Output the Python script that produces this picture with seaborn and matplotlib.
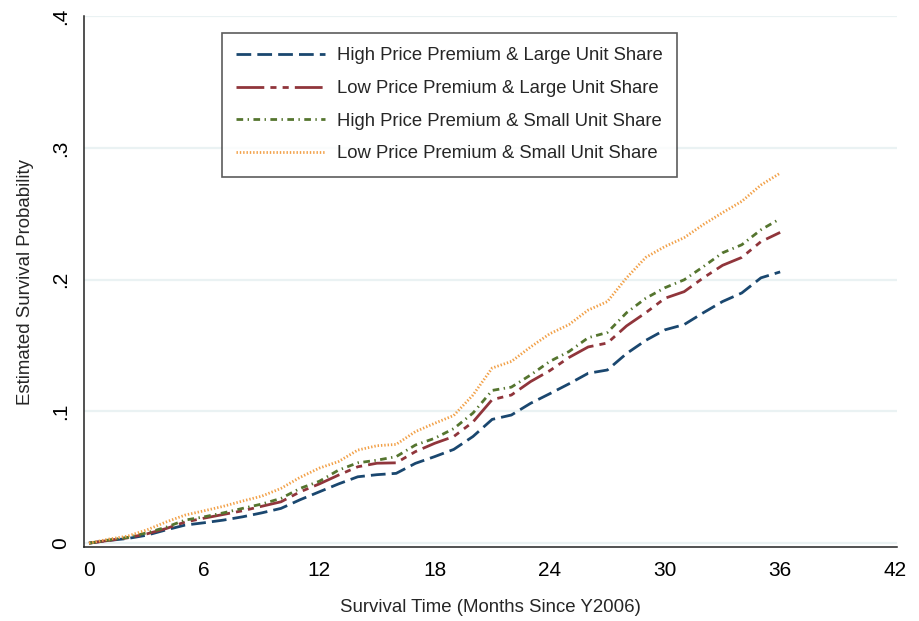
import numpy as np
import pandas as pd
import matplotlib
matplotlib.use("Agg")
import matplotlib.pyplot as plt
import seaborn as sns

months = list(range(37))

high_large = [0, .002, .0035, .006, .010, .0137, .0155, .0175, .020, .023, .0264,
              .033, .039, .045, .0504, .052, .053, .0606, .0657, .0712, .081,
              .094, .0973, .1062, .1135, .121, .129, .1315, .144, .154, .162,
              .166, .175, .1835, .190, .2015, .206]
low_large = [0, .002, .004, .007, .011, .016, .019, .0218, .0246, .028, .0314,
             .039, .045, .0517, .058, .0607, .061, .0695, .0758, .081, .092,
             .109, .1125, .1227, .131, .141, .149, .152, .165, .175, .186,
             .191, .2015, .211, .217, .229, .236]
high_small = [0, .0023, .0043, .0078, .012, .0175, .020, .023, .0264, .0297, .034,
              .0416, .047, .0555, .061, .063, .0657, .0745, .0796, .087, .0988,
              .116, .1185, .1277, .138, .1455, .156, .160, .175, .186, .194,
              .200, .210, .2205, .2266, .238, .2464]
low_small = [0, .003, .0053, .010, .016, .0213, .0246, .028, .032, .0357, .0416,
             .050, .057, .062, .0707, .074, .075, .0847, .091, .097, .1125,
             .133, .138, .149, .159, .166, .177, .1835, .2015, .217, .2253,
             .232, .242, .251, .2596, .272, .281]

groups = ["High Price Premium & Large Unit Share",
          "Low Price Premium & Large Unit Share",
          "High Price Premium & Small Unit Share",
          "Low Price Premium & Small Unit Share"]
series = [high_large, low_large, high_small, low_small]

xticks = [0, 6, 12, 18, 24, 30, 36, 42]
yticks = [0, .1, .2, .3, .4]
ytick_labels = ["0", ".1", ".2", ".3", ".4"]

df = pd.DataFrame({
    "month": months * len(groups),
    "surv": [v for s in series for v in s],
    "group": [g for g in groups for _ in months],
})

sns.set_style("white")
plt.rcParams["font.family"] = ["Liberation Sans", "DejaVu Sans"]

colors = ["#1a476f", "#90353b", "#55752f", "#f2a047"]
# dash patterns in units of line width
dashes = [(5.3, 2.2), (10, 2.2, 2.2, 2.2, 2.2, 2.2), (2.4, 1.6, 0.5, 1.6), (0.5, 0.7)]

fig = plt.figure(figsize=(9.2, 6.21), dpi=100)
ax = fig.add_axes([0.0913, 0.119, 0.884, 0.8545])

sns.lineplot(data=df, x="month", y="surv", hue="group", style="group",
             hue_order=groups, style_order=groups,
             palette=colors, dashes=dashes, linewidth=2.0, ax=ax)

ax.set_xlim(-0.26, 42.1)
ax.set_ylim(-0.003, 0.4)
ax.set_xticks(xticks)
ax.set_yticks(yticks)
ax.set_yticklabels(ytick_labels, rotation=90, va="center")
ax.tick_params(axis="both", direction="out", length=6, width=1,
               labelsize=15, colors="#222222", pad=4)
ax.tick_params(axis="x", labelcolor="black")
ax.tick_params(axis="y", labelcolor="black")
ax.yaxis.grid(True, color="#eaf2f3", linewidth=1.6)
ax.set_axisbelow(True)
for side in ["top", "right"]:
    ax.spines[side].set_visible(False)
for side in ["left", "bottom"]:
    ax.spines[side].set_color("#222222")
    ax.spines[side].set_linewidth(1.1)

ax.set_xlabel("Survival Time (Months Since Y2006)", fontsize=13.4, labelpad=14)
ax.set_ylabel("Estimated Survival Probability", fontsize=13.4, labelpad=12)

leg = ax.legend(loc="upper left", bbox_to_anchor=(0.1697, 0.969), fontsize=13.3,
                frameon=True, fancybox=False, shadow=False, handlelength=4.8,
                handletextpad=0.65, labelspacing=0.85, borderpad=0.78,
                borderaxespad=0)
leg.get_frame().set_edgecolor("#333333")
leg.get_frame().set_linewidth(1.2)
for line in leg.get_lines():
    line.set_linewidth(2.0)

fig.savefig("out.png", dpi=100)
